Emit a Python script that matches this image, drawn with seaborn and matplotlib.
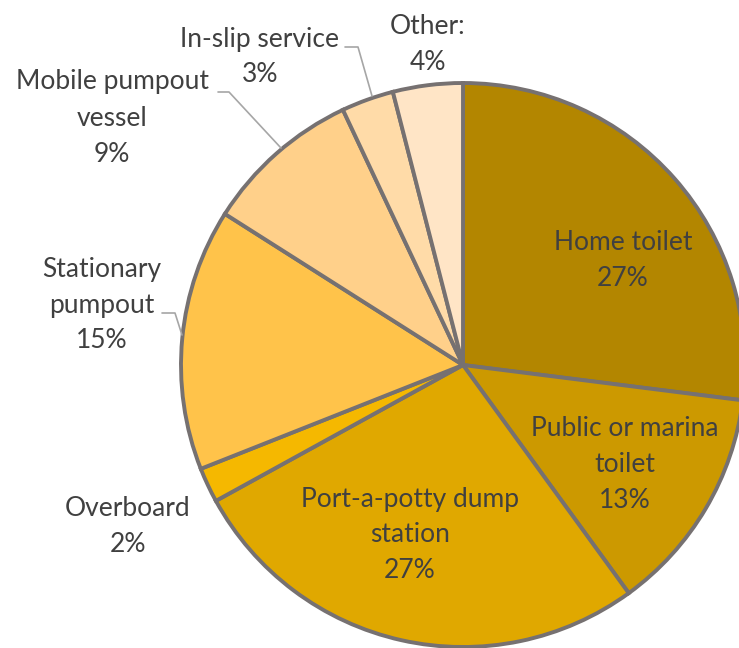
import matplotlib
matplotlib.use("Agg")
import matplotlib.pyplot as plt
import seaborn as sns

categories = ["Home toilet", "Public or marina\ntoilet", "Port-a-potty dump\nstation", "Overboard",
              "Stationary\npumpout", "Mobile pumpout\nvessel", "In-slip service", "Other:"]
values = [27, 13, 27, 2, 15, 9, 3, 4]
colors = ["#B38600", "#CC9900", "#E0A800", "#F5B800", "#FFC34A", "#FFD08A", "#FFDBA8", "#FFE5C6"]

sns.set_theme(style="white")
plt.rcParams['font.family'] = ['Lato', 'DejaVu Sans']

W, H = 739, 648
fig = plt.figure(figsize=(W / 100, H / 100), dpi=100)
ax = fig.add_axes([0, 0, 1, 1])

cx, cy, r = 463, H - 365, 282
ax.pie(values, colors=colors, startangle=90, counterclock=False, center=(cx, cy), radius=r,
       wedgeprops=dict(edgecolor="#767171", linewidth=2.8), frame=True)
ax.set_xlim(0, W)
ax.set_ylim(0, H)
ax.set_aspect("equal")
ax.axis("off")

def P(x, y):
    return (x, H - y)

# label layout (pixel positions of label centres)
label_pos = [(623, 261), (625, 465), (410, 535), (128, 527), (102, 305), (112, 118), (260, 57), (428, 45)]
txtc = "#404040"
for cat, v, (x, y) in zip(categories, values, label_pos):
    ax.text(*P(x, y), f"{cat}\n{v}%", ha="center", va="center", fontsize=19, color=txtc,
            linespacing=1.55)

leader = "#A6A6A6"
for pts in [[(218, 92), (229, 92), (281, 148)],
            [(345, 47), (358, 47), (372, 96)],
            [(162, 313), (175, 313), (182, 335)]]:
    xs = [p[0] for p in pts]
    ys = [H - p[1] for p in pts]
    ax.plot(xs, ys, color=leader, lw=1.2)

fig.savefig("out.png", dpi=100)
